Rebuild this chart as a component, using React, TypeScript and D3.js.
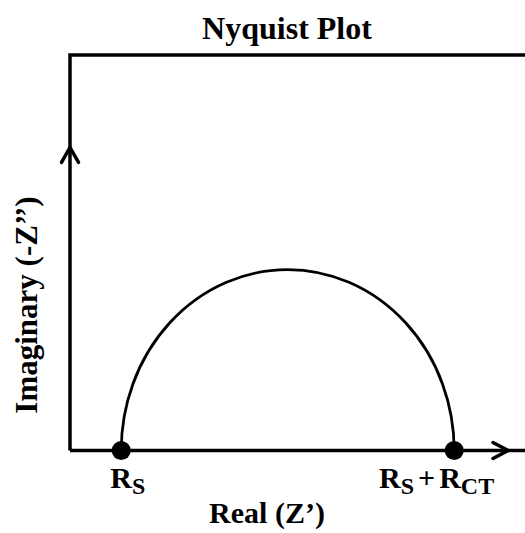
import React from "react";
import * as d3 from "d3";

// Schematic values (arbitrary resistance units)
const RS = 10;
const RCT = 65;
const X_MAX = 85.5;
const Y_MAX = 71;
const X_ARROW = 85.5;
const Y_ARROW = 54.4;
const title = "Nyquist Plot";
const xLabel = "Real (Z’)";
const yLabel = "Imaginary (-Z’’)";

const W = 525;
const H = 533;
const FONT = "'Liberation Serif', 'Times New Roman', serif";

export default function App() {
  const x = d3.scaleLinear().domain([0, X_MAX]).range([70, 508]);
  const y = d3.scaleLinear().domain([0, Y_MAX]).range([450.5, 55]);
  const ys = d3.scaleLinear().domain([0, 1]).range([0, 181]);
  const x0 = x(0);
  const y0 = y(0);
  const pts = [RS, RS + RCT];
  const rx = x(RS + RCT / 2) - x(RS);
  const ry = ys(1);
  const arcPath = `M${x(pts[0])},${y0} A${rx},${ry} 0 0 1 ${x(pts[1])},${y0}`;
  const ax = x(X_ARROW);
  const ay = y(Y_ARROW);
  return (
    <svg width={W} height={H} style={{ position: "absolute", left: 0, top: 0, background: "#fff" }}>
      <rect width={W} height={H} fill="#fff" />
      <text x={287} y={39} textAnchor="middle" fontFamily={FONT} fontWeight="bold" fontSize={32}>
        {title}
      </text>
      <path d={`M${x0},${y0} L${x0},${y(Y_MAX)} L${W},${y(Y_MAX)}`} fill="none" stroke="#000" strokeWidth={3.5} />
      <line x1={x0} y1={y0} x2={W} y2={y0} stroke="#000" strokeWidth={3.5} />
      <path d={`M${ax - 15},${y0 - 8} L${ax},${y0} L${ax - 15},${y0 + 8}`} fill="none" stroke="#000" strokeWidth={3.5} strokeLinecap="round" />
      <path d={`M${x0 - 8.5},${ay + 15} L${x0},${ay} L${x0 + 8.5},${ay + 15}`} fill="none" stroke="#000" strokeWidth={3.5} strokeLinecap="round" />
      <path d={arcPath} fill="none" stroke="#000" strokeWidth={2.8} />
      {pts.map((p, i) => (
        <circle key={i} cx={x(p)} cy={y0} r={9.5} fill="#000" />
      ))}
      <text x={x(pts[0]) - 11} y={488} fontFamily={FONT} fontWeight="bold" fontSize={30}>
        R<tspan fontSize={24} dy={6}>S</tspan>
      </text>
      <text x={379} y={488} fontFamily={FONT} fontWeight="bold" fontSize={30}>
        R<tspan fontSize={24} dy={6}>S</tspan>
        <tspan fontSize={30} dy={-6} dx={4}>+</tspan>
        <tspan fontSize={30} dx={4}>R</tspan>
        <tspan fontSize={24} dy={6}>CT</tspan>
      </text>
      <text x={267} y={523} textAnchor="middle" fontFamily={FONT} fontWeight="bold" fontSize={30}>
        {xLabel}
      </text>
      <text transform={`translate(37,305) rotate(-90)`} textAnchor="middle" fontFamily={FONT} fontWeight="bold" fontSize={31}>
        {yLabel}
      </text>
    </svg>
  );
}
